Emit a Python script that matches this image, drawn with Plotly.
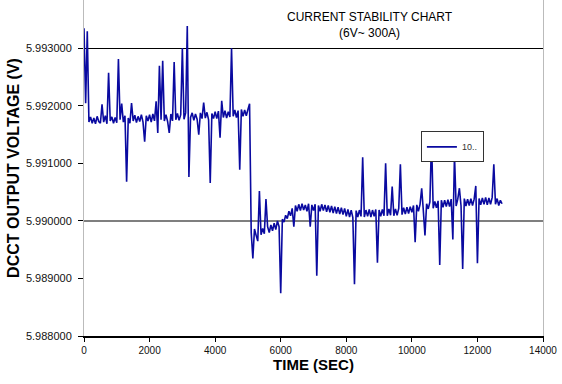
import numpy as np
import plotly.graph_objects as go

# Sampling times (s), every 50 s
time_s = list(range(0, 12751, 50))

# DCCT output voltage (V), one value per sample time
voltage = [
    5.993350, 5.992050, 5.993300, 5.991720, 5.991810, 5.991700, 5.991790, 5.991690, 5.991820, 5.991730,
    5.991700, 5.992030, 5.991720, 5.991830, 5.991690, 5.992579, 5.991740, 5.991810, 5.991700, 5.991800,
    5.991710, 5.992817, 5.991760, 5.992040, 5.991720, 5.991830, 5.990683, 5.991790, 5.991700, 5.992050,
    5.991740, 5.991840, 5.991710, 5.991820, 5.991730, 5.991850, 5.991720, 5.991380, 5.991830, 5.991740,
    5.991850, 5.991720, 5.991860, 5.991740, 5.992080, 5.991530, 5.992701, 5.991760, 5.992788, 5.991740,
    5.991850, 5.991730, 5.991530, 5.991860, 5.991740, 5.992765, 5.991760, 5.991870, 5.991750, 5.991850,
    5.993009, 5.991770, 5.991880, 5.993391, 5.990765, 5.991800, 5.991880, 5.991750, 5.991860, 5.991770,
    5.991500, 5.991880, 5.991780, 5.992060, 5.991790, 5.991890, 5.991760, 5.990660, 5.991870, 5.991780,
    5.991900, 5.991780, 5.991910, 5.991450, 5.992090, 5.991800, 5.991920, 5.991790, 5.991900, 5.991810,
    5.993003, 5.991820, 5.991930, 5.991800, 5.991920, 5.990890, 5.991940, 5.991820, 5.991930, 5.991830,
    5.991940, 5.992040, 5.989800, 5.989350, 5.989860, 5.989750, 5.989650, 5.990522, 5.989760, 5.989870,
    5.989780, 5.990383, 5.989900, 5.989800, 5.989930, 5.989830, 5.989960, 5.989850, 5.990000, 5.989900,
    5.988743, 5.990030, 5.989980, 5.990100, 5.990040, 5.990170, 5.990090, 5.990220, 5.989900, 5.990270,
    5.990170, 5.990290, 5.990180, 5.990300, 5.990190, 5.990280, 5.990170, 5.990300, 5.989900, 5.990280,
    5.990180, 5.990290, 5.989049, 5.990270, 5.990170, 5.990290, 5.990180, 5.990280, 5.990160, 5.990270,
    5.990150, 5.990260, 5.990140, 5.990250, 5.990130, 5.990240, 5.990120, 5.990230, 5.990110, 5.990220,
    5.990080, 5.990200, 5.990070, 5.990190, 5.990060, 5.988899, 5.990180, 5.990070, 5.990190, 5.990080,
    5.991108, 5.990070, 5.990190, 5.990080, 5.990200, 5.990070, 5.990190, 5.990080, 5.990200, 5.989275,
    5.990190, 5.990080, 5.990200, 5.990090, 5.991003, 5.990090, 5.990210, 5.990100, 5.990597, 5.990090,
    5.990210, 5.990100, 5.990220, 5.990986, 5.990110, 5.990230, 5.990120, 5.990240, 5.990130, 5.990250,
    5.990150, 5.990270, 5.989630, 5.990280, 5.990170, 5.990290, 5.990570, 5.990180, 5.989750, 5.990300,
    5.990210, 5.990330, 5.991438, 5.990220, 5.990340, 5.990230, 5.990350, 5.989235, 5.990360, 5.990240,
    5.990360, 5.990250, 5.990370, 5.990250, 5.990380, 5.989680, 5.991148, 5.990260, 5.990380, 5.990570,
    5.990260, 5.989165, 5.990390, 5.990260, 5.990380, 5.990270, 5.990390, 5.990270, 5.990380, 5.990610,
    5.989264, 5.990390, 5.990280, 5.990400, 5.990290, 5.990410, 5.990280, 5.990400, 5.990290, 5.990410,
    5.990986, 5.990290, 5.990390, 5.990270, 5.990360, 5.990300,
]

series_name = "10.."
ref_lines = [5.990, 5.993]
x_ticks = [0, 2000, 4000, 6000, 8000, 10000, 12000, 14000]
y_ticks = [5.988, 5.989, 5.990, 5.991, 5.992, 5.993]

FONT = "Liberation Sans, Arial, sans-serif"

fig = go.Figure()
fig.add_trace(go.Scatter(
    x=time_s, y=voltage, mode="lines", name=series_name,
    line=dict(color="#0A0AA0", width=1.6, simplify=False), showlegend=True,
))

for v in ref_lines:
    fig.add_shape(type="line", xref="paper", x0=0, x1=1, yref="y", y0=v, y1=v,
                  line=dict(color="black", width=1.2), layer="below")

fig.add_annotation(
    text="CURRENT STABILITY CHART<br>(6V~ 300A)", xref="paper", yref="paper",
    x=0.623, y=0.9256, xanchor="center", yanchor="middle", showarrow=False,
    font=dict(family=FONT, size=12, color="black"),
)

fig.update_layout(
    width=562, height=384,
    margin=dict(l=84, r=19, t=0, b=48),
    paper_bgcolor="white", plot_bgcolor="white",
    font=dict(family=FONT, size=10, color="#111"),
    showlegend=True,
    legend=dict(x=0.734, y=0.563, xanchor="left", yanchor="middle",
                bgcolor="white", bordercolor="#333", borderwidth=1,
                font=dict(size=9, color="#333"), itemwidth=30,
                tracegroupgap=0),
    xaxis=dict(
        range=[0, 14000], tickvals=x_ticks, ticktext=[str(v) for v in x_ticks],
        showgrid=False, zeroline=False, automargin=False,
        showline=True, linecolor="black", linewidth=1.5,
        ticks="outside", ticklen=4, tickcolor="black",
        title=dict(text="<b>TIME (SEC)</b>", font=dict(size=15, color="black"), standoff=3),
    ),
    yaxis=dict(
        range=[5.988, 5.993843], tickvals=y_ticks,
        ticktext=[f"{v:.6f}" for v in y_ticks],
        tickfont=dict(size=11), ticklabelstandoff=4,
        showgrid=False, zeroline=False, automargin=False,
        showline=True, linecolor="#BBBBBB", linewidth=1, mirror=True,
        ticks="outside", ticklen=5, tickcolor="black",
        title=dict(text="<b>DCCT OUTPUT VOLTAGE (V)</b>", font=dict(size=16, color="black"), standoff=2),
    ),
)

fig.write_html("out.html", config={"displayModeBar": False},
               post_script="document.body.style.margin='0';document.body.style.padding='0';")
